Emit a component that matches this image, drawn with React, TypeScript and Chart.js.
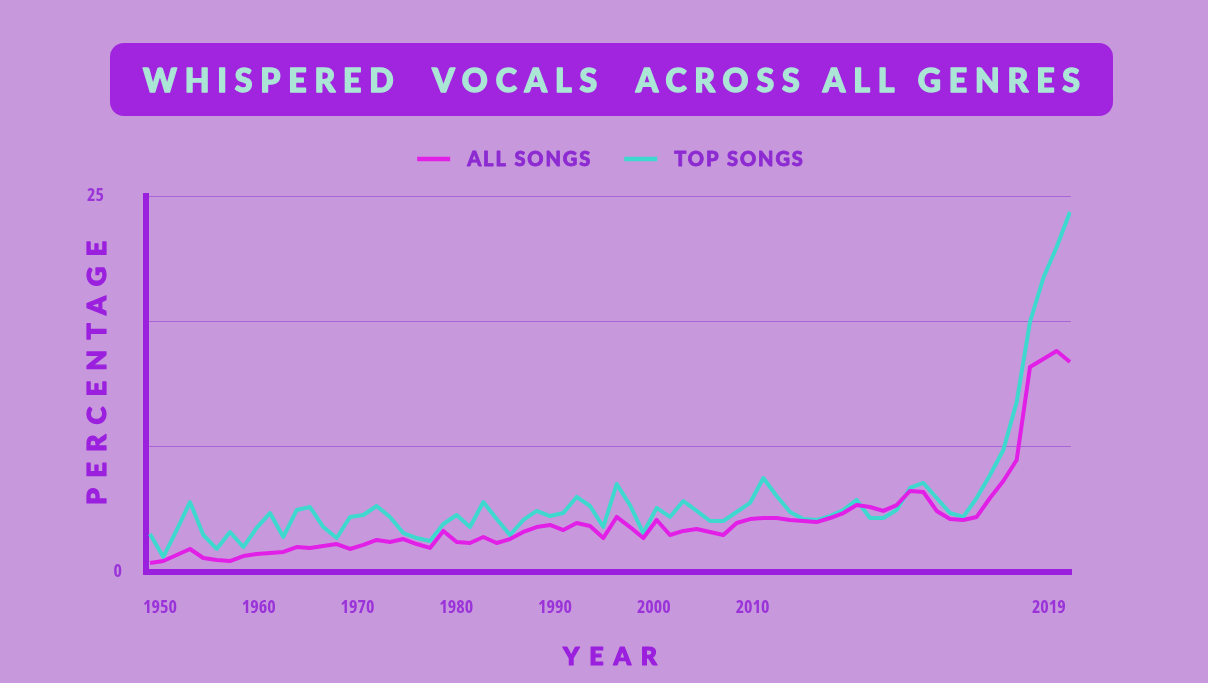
import { useEffect, useRef } from 'react';
import { Chart, registerables } from 'chart.js';

Chart.register(...registerables);

// Yearly share of songs with whispered vocals (percent)
const YEARS = [
  1950, 1951, 1952, 1953, 1954, 1955, 1956, 1957, 1958, 1959,
  1960, 1961, 1962, 1963, 1964, 1965, 1966, 1967, 1968, 1969,
  1970, 1971, 1972, 1973, 1974, 1975, 1976, 1977, 1978, 1979,
  1980, 1981, 1982, 1983, 1984, 1985, 1986, 1987, 1988, 1989,
  1990, 1991, 1992, 1993, 1994, 1995, 1996, 1997, 1998, 1999,
  2000, 2001, 2002, 2003, 2004, 2005, 2006, 2007, 2008, 2009,
  2010, 2011, 2012, 2013, 2014, 2015, 2016, 2017, 2018, 2019,
];

const ALL_SONGS = [
  0.6, 0.73, 1.13, 1.53, 0.93, 0.8, 0.73, 1.06, 1.2, 1.26,
  1.33, 1.66, 1.6, 1.73, 1.86, 1.53, 1.8, 2.13, 1.99, 2.19,
  1.86, 1.6, 2.73, 1.99, 1.93, 2.33, 1.93, 2.19, 2.66, 2.99,
  3.13, 2.79, 3.26, 3.06, 2.26, 3.66, 2.99, 2.26, 3.46, 2.46,
  2.73, 2.86, 2.66, 2.46, 3.26, 3.52, 3.59, 3.59, 3.46, 3.39,
  3.32, 3.59, 3.92, 4.45, 4.32, 4.06, 4.45, 5.39, 5.32, 4.06,
  3.52, 3.46, 3.66, 4.92, 6.05, 7.45, 13.63, 14.16, 14.69, 13.96,
];

const TOP_SONGS = [
  2.53, 1.0, 2.79, 4.65, 2.46, 1.53, 2.66, 1.66, 2.93, 3.92,
  2.33, 4.12, 4.32, 2.99, 2.26, 3.66, 3.79, 4.39, 3.66, 2.59,
  2.26, 2.06, 3.19, 3.79, 2.99, 4.65, 3.52, 2.46, 3.46, 4.06,
  3.72, 3.92, 4.99, 4.39, 2.99, 5.85, 4.45, 2.59, 4.26, 3.66,
  4.72, 4.06, 3.39, 3.39, 3.99, 4.59, 6.25, 5.05, 3.99, 3.52,
  3.46, 3.72, 4.12, 4.79, 3.59, 3.59, 4.12, 5.59, 5.92, 4.92,
  3.92, 3.66, 4.92, 6.45, 8.11, 11.3, 16.62, 19.55, 21.61, 23.94,
];

// Year labels along the bottom and the evenly spaced slots they sit in
const YEAR_TICK_LABELS = ['1950', '1960', '1970', '1980', '1990', '2000', '2010', '2019'];
const YEAR_TICK_SLOTS = [0, 1, 2, 3, 4, 5, 6, 9];

// Horizontal guide lines and the two labelled percentages
const PERCENT_GRID = [0, 25 / 3, 50 / 3, 25];
const PERCENT_LABELS = [0, 25];

const TITLE = 'WHISPERED  VOCALS  ACROSS ALL GENRES';
const X_TITLE = 'YEAR';
const Y_TITLE = 'PERCENTAGE';

const BG = '#c898dc';
const BANNER = '#a125df';
const BANNER_TEXT = '#abe5d6';
const AXIS = '#9b20de';
const GRID = '#a965d5';
const LABEL = '#9a34d9';
const LEGEND_TEXT = '#8d2bd2';
const MAGENTA = '#e11fe6';
const TEAL = '#3ed8cf';

const HEAD_FONT = 'Lato, "Open Sans", sans-serif';
const TICK_FONT = '"Open Sans", "DejaVu Sans Condensed", Roboto, sans-serif';

// Letter-spaced heading text; a thin stroke in the fill colour gives it extra weight
function spacedText(
  ctx: CanvasRenderingContext2D,
  text: string,
  cx: number,
  baseline: number,
  width: number,
  weightStroke = 1.2,
) {
  (ctx as any).letterSpacing = '0px';
  const w = ctx.measureText(text).width;
  const n = Array.from(text).length;
  const s = n > 1 ? (width - w) / (n - 1) : 0;
  (ctx as any).letterSpacing = `${s}px`;
  ctx.textAlign = 'left';
  ctx.textBaseline = 'alphabetic';
  ctx.fillText(text, cx - width / 2, baseline);
  if (weightStroke > 0) {
    ctx.strokeStyle = ctx.fillStyle;
    ctx.lineWidth = weightStroke;
    ctx.lineJoin = 'round';
    ctx.strokeText(text, cx - width / 2, baseline);
  }
  (ctx as any).letterSpacing = '0px';
}

// Banner title, legend and axis titles drawn around the plot
const decorPlugin = {
  id: 'decor',
  beforeDraw(chart: any) {
    const ctx: CanvasRenderingContext2D = chart.ctx;
    ctx.save();

    // title banner
    ctx.fillStyle = BANNER;
    ctx.beginPath();
    (ctx as any).roundRect(110, 43, 1003, 73, 14);
    ctx.fill();
    ctx.fillStyle = BANNER_TEXT;
    ctx.font = `900 32px ${HEAD_FONT}`;
    spacedText(ctx, TITLE, 611.5, 92, 937, 1.4);

    // legend
    ctx.font = `900 20px ${HEAD_FONT}`;
    const spacing = 1.9;
    const items = chart.data.datasets.map((ds: any) => {
      (ctx as any).letterSpacing = '0px';
      const w = ctx.measureText(ds.label).width + spacing * (Array.from(ds.label as string).length - 1);
      return { label: ds.label, color: ds.borderColor, w };
    });
    const lineLen = 33;
    const gap = 17;
    const itemGap = 34;
    const total =
      items.reduce((acc: number, it: any) => acc + lineLen + gap + it.w, 0) + itemGap * (items.length - 1);
    let x = 610 - total / 2;
    const ly = 159;
    items.forEach((it: any) => {
      ctx.strokeStyle = it.color;
      ctx.lineWidth = 4.5;
      ctx.lineCap = 'butt';
      ctx.beginPath();
      ctx.moveTo(x, ly);
      ctx.lineTo(x + lineLen, ly);
      ctx.stroke();
      x += lineLen + gap;
      ctx.fillStyle = LEGEND_TEXT;
      ctx.strokeStyle = LEGEND_TEXT;
      ctx.lineWidth = 0.8;
      ctx.lineJoin = 'round';
      (ctx as any).letterSpacing = `${spacing}px`;
      ctx.textAlign = 'left';
      ctx.textBaseline = 'alphabetic';
      ctx.fillText(it.label, x, ly + 7);
      ctx.strokeText(it.label, x, ly + 7);
      (ctx as any).letterSpacing = '0px';
      x += it.w + itemGap;
    });

    // axis titles
    ctx.fillStyle = AXIS;
    ctx.font = `900 25px ${HEAD_FONT}`;
    spacedText(ctx, X_TITLE, 610, 665, 94, 1.2);

    ctx.font = `900 27px ${HEAD_FONT}`;
    ctx.translate(96, 373);
    ctx.rotate(-Math.PI / 2);
    spacedText(ctx, Y_TITLE, 0, 9.7, 264, 1.2);

    ctx.restore();
  },
};

export default function App() {
  const canvasRef = useRef<HTMLCanvasElement | null>(null);

  useEffect(() => {
    document.body.style.margin = '0';
    document.body.style.background = BG;
    document.body.style.overflow = 'hidden';
    const canvas = canvasRef.current;
    if (!canvas) return;

    const chart = new Chart(canvas, {
      type: 'line',
      data: {
        datasets: [
          {
            label: 'ALL SONGS',
            data: YEARS.map((yr, i) => ({ x: yr, y: ALL_SONGS[i] })),
            borderColor: MAGENTA,
            backgroundColor: MAGENTA,
            borderWidth: 4,
            pointRadius: 0,
            tension: 0,
            borderJoinStyle: 'round',
            xAxisID: 'x',
            yAxisID: 'y',
          },
          {
            label: 'TOP SONGS',
            data: YEARS.map((yr, i) => ({ x: yr, y: TOP_SONGS[i] })),
            borderColor: TEAL,
            backgroundColor: TEAL,
            borderWidth: 4,
            pointRadius: 0,
            tension: 0,
            borderJoinStyle: 'round',
            xAxisID: 'x',
            yAxisID: 'y',
          },
        ],
      },
      options: {
        animation: false,
        responsive: true,
        maintainAspectRatio: false,
        layout: { padding: { top: 196, left: 0, right: 137, bottom: 51 } },
        plugins: {
          legend: { display: false },
          title: { display: false },
          tooltip: { enabled: false },
        },
        scales: {
          x: {
            type: 'linear',
            min: 1949.7,
            max: 2019.075,
            display: false,
          },
          years: {
            type: 'linear',
            position: 'bottom',
            min: -0.1418,
            max: 9.225,
            afterBuildTicks: (scale: any) => {
              scale.ticks = YEAR_TICK_SLOTS.map((v) => ({ value: v }));
            },
            afterFit: (scale: any) => {
              scale.height = 60;
            },
            grid: { display: false, drawTicks: false },
            border: { display: true, width: 6, color: AXIS },
            ticks: {
              autoSkip: false,
              maxRotation: 0,
              padding: 25,
              color: LABEL,
              font: { family: TICK_FONT, size: 18, weight: 'bold condensed' },
              callback: (v: any) => {
                const i = YEAR_TICK_SLOTS.indexOf(Number(v));
                return i >= 0 ? YEAR_TICK_LABELS[i] : '';
              },
            },
          },
          y: {
            type: 'linear',
            min: 0,
            max: 25,
            afterBuildTicks: (scale: any) => {
              scale.ticks = PERCENT_GRID.map((v) => ({ value: v }));
            },
            afterFit: (scale: any) => {
              scale.width = 146;
            },
            grid: { color: GRID, lineWidth: 1, drawTicks: false },
            border: { display: true, width: 6, color: AXIS },
            ticks: {
              padding: 24,
              color: LABEL,
              font: { family: TICK_FONT, size: 18, weight: 'bold condensed' },
              callback: (v: any) => {
                const n = Number(v);
                if (!PERCENT_LABELS.includes(n)) return '';
                return n === 25 ? '25\u2003' : String(n);
              },
            },
          },
        },
      },
      plugins: [decorPlugin],
    } as any);

    return () => chart.destroy();
  }, []);

  return (
    <div style={{ position: 'relative', width: 1208, height: 683, background: BG }}>
      <canvas ref={canvasRef} />
    </div>
  );
}
